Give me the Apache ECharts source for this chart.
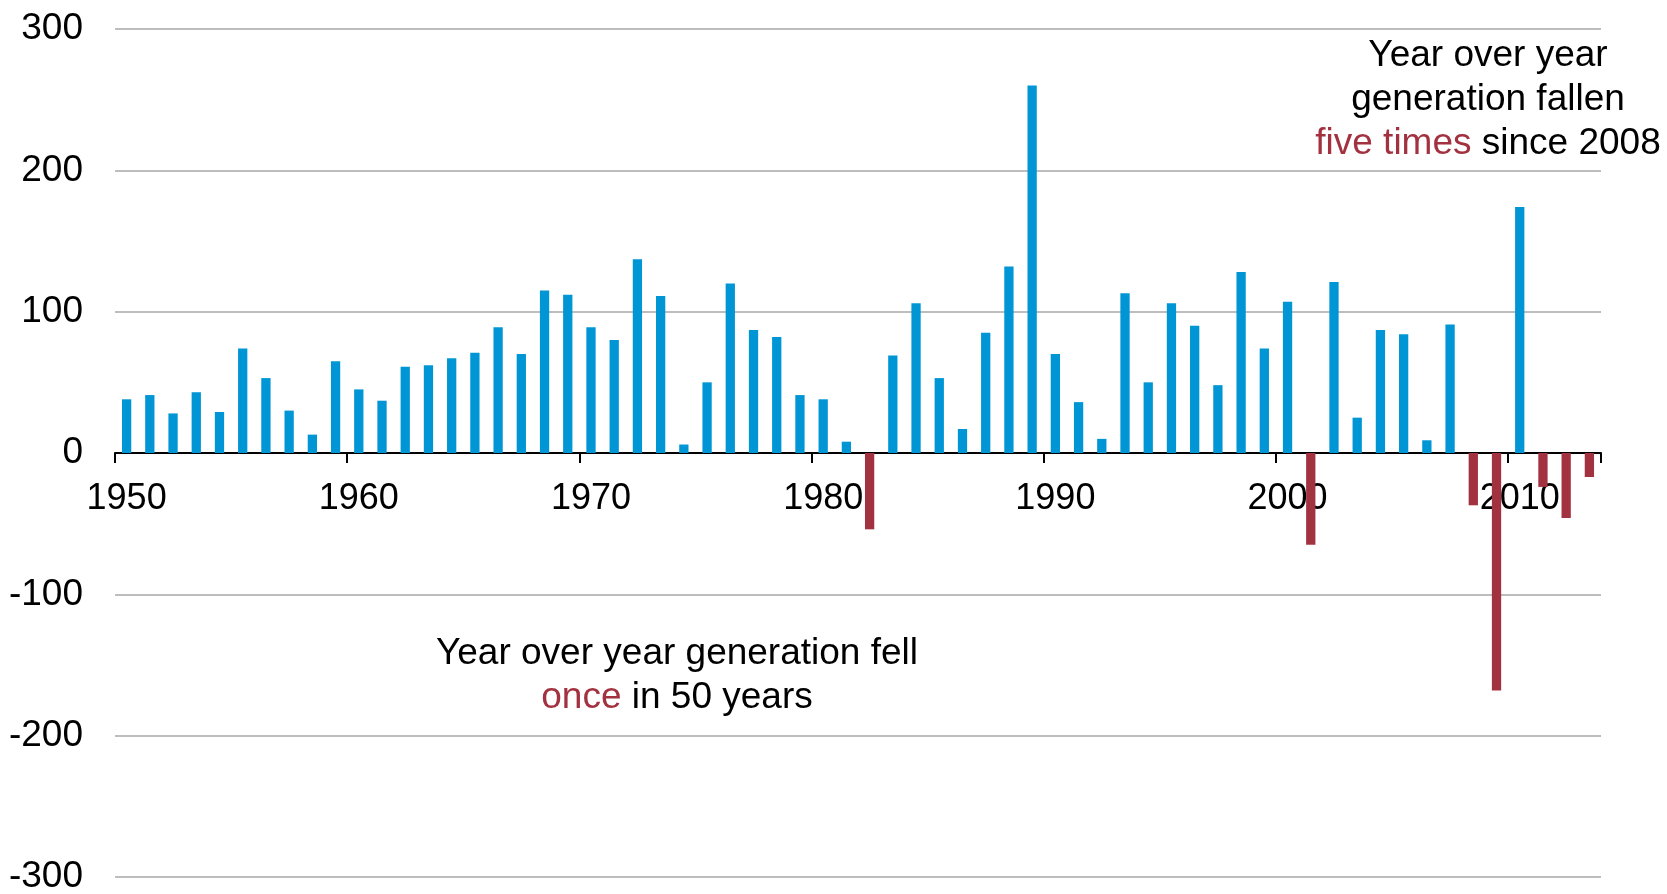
<!DOCTYPE html>
<html>
<head>
<meta charset="utf-8">
<script src="https://cdn.jsdelivr.net/npm/echarts@6/dist/echarts.min.js"></script>
<style>
  html, body { margin: 0; padding: 0; background: #ffffff; }
  #chart { width: 1667px; height: 894px; }
</style>
</head>
<body>
<div id="chart"></div>
<script>
// Year-over-year change in generation, 1950-2013
const years = [
  '1950','1951','1952','1953','1954','1955','1956','1957','1958','1959',
  '1960','1961','1962','1963','1964','1965','1966','1967','1968','1969',
  '1970','1971','1972','1973','1974','1975','1976','1977','1978','1979',
  '1980','1981','1982','1983','1984','1985','1986','1987','1988','1989',
  '1990','1991','1992','1993','1994','1995','1996','1997','1998','1999',
  '2000','2001','2002','2003','2004','2005','2006','2007','2008','2009',
  '2010','2011','2012','2013'
];

const yoyChange = [
  38, 41, 28, 43, 29, 74, 53, 30, 13, 65,
  45, 37, 61, 62, 67, 71, 89, 70, 115, 112,
  89, 80, 137, 111, 6, 50, 120, 87, 82, 41,
  38, 8, -54, 69, 106, 53, 17, 85, 132, 260,
  70, 36, 10, 113, 50, 106, 90, 48, 128, 74,
  107, -65, 121, 25, 87, 84, 9, 91, -37, -168,
  174, -24, -46, -17
];

const yTicks = [-300, -200, -100, 0, 100, 200, 300];

const noteRecent = ['Year over year', 'generation fallen', 'five times', ' since 2008'];
const noteEarly = ['Year over year generation fell', 'once', ' in 50 years'];

const BLUE = '#0096d6';
const RED = '#a33240';
const FONT = '"Liberation Sans", Arial, sans-serif';

// plot box
const GRID_TOP = 29;
const GRID_H = 848;
const yMin = yTicks[0];
const yMax = yTicks[yTicks.length - 1];
// shift the category axis up so it sits on the zero line, labels included
const zeroOffset = -GRID_H * (0 - yMin) / (yMax - yMin);

const noteStyle = (fill) => ({ fontSize: 37, fontFamily: FONT, fill: fill, lineHeight: 44 });

const chart = echarts.init(document.getElementById('chart'), null, { renderer: 'canvas' });

chart.setOption({
  animation: false,
  backgroundColor: '#ffffff',
  grid: { left: 115, top: GRID_TOP, width: 1486, height: GRID_H, containLabel: false, outerBoundsMode: 'none' },
  xAxis: {
    type: 'category',
    data: years,
    boundaryGap: true,
    offset: zeroOffset,
    axisLine: { onZero: false, lineStyle: { color: '#000000', width: 2 } },
    axisTick: {
      show: true,
      interval: (index) => index % 10 === 0,
      length: 10,
      lineStyle: { color: '#000000', width: 2 }
    },
    axisLabel: {
      interval: 9,
      margin: 28,
      color: '#000000',
      fontSize: 36,
      fontFamily: FONT
    },
    splitLine: { show: false }
  },
  yAxis: {
    type: 'value',
    min: yMin,
    max: yMax,
    interval: 100,
    axisLine: { show: false },
    axisTick: { show: false },
    axisLabel: {
      margin: 32,
      color: '#000000',
      fontSize: 37,
      fontFamily: FONT
    },
    splitLine: { lineStyle: { color: '#bdbdbd', width: 2 } }
  },
  series: [{
    type: 'bar',
    data: yoyChange,
    barWidth: '40%',
    itemStyle: {
      color: (p) => (p.value < 0 ? RED : BLUE)
    }
  }],
  graphic: [
    {
      type: 'text',
      x: 1488,
      y: 34,
      style: {
        text: '{k|' + noteRecent[0] + '}\n{k|' + noteRecent[1] + '}\n{r|' + noteRecent[2] + '}{k|' + noteRecent[3] + '}',
        align: 'center',
        verticalAlign: 'top',
        rich: { k: noteStyle('#000000'), r: noteStyle(RED) }
      },
      z: 10
    },
    {
      type: 'text',
      x: 677,
      y: 632,
      style: {
        text: '{k|' + noteEarly[0] + '}\n{r|' + noteEarly[1] + '}{k|' + noteEarly[2] + '}',
        align: 'center',
        verticalAlign: 'top',
        rich: { k: noteStyle('#000000'), r: noteStyle(RED) }
      },
      z: 10
    }
  ]
});
</script>
</body>
</html>
